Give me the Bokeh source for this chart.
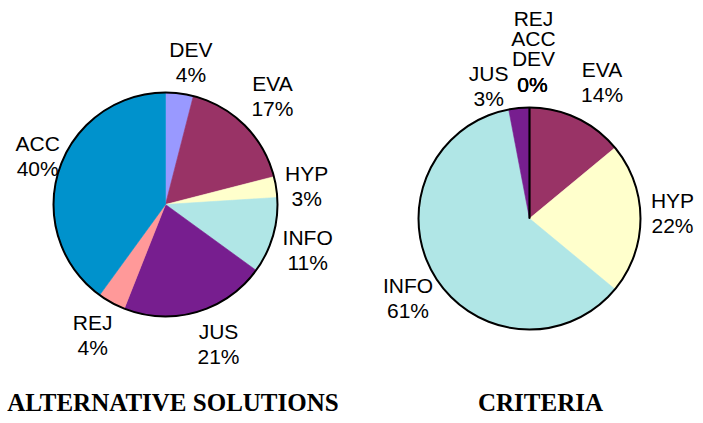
import math
from bokeh.plotting import figure
from bokeh.models import Range1d, ColumnDataSource
from bokeh.core.properties import value
from bokeh.embed import file_html
from bokeh.resources import INLINE

# ---- data ----
categories = ["DEV", "EVA", "HYP", "INFO", "JUS", "REJ", "ACC"]
alternative_pct = [4, 17, 3, 11, 21, 4, 40]
criteria_pct = [0, 14, 22, 61, 3, 0, 0]
colors = ["#9999FF", "#993366", "#FFFFCC", "#B0E6E6", "#771E8F", "#FF9999", "#0092CC"]
titles = ["ALTERNATIVE SOLUTIONS", "CRITERIA"]

# ---- layout (pixel-like coordinates, y measured downwards then flipped) ----
W, H = 703, 423
PAGE_H = 423


def Y(py):
    return PAGE_H - py


p = figure(width=W, height=H, x_range=Range1d(0, W), y_range=Range1d(PAGE_H - H, PAGE_H),
           output_backend="svg", toolbar_location=None, min_border=0)
p.axis.visible = False
p.grid.visible = False
p.outline_line_color = None
p.background_fill_color = "white"

FONT = value("Liberation Sans")
LABEL_SIZE = "21px"
LABEL_R = 147
LINE_GAP = 12.5


def draw_pie(cx, cy, r, vals, nudges):
    total = float(sum(vals))
    cum = 0.0
    src = dict(start=[], end=[], color=[])
    zero_angles = []
    lab = dict(x=[], y=[], t=[])
    zero_before, zero_after = [], []
    seen_nonzero = False
    for cat, v, col in zip(categories, vals, colors):
        a0 = math.pi / 2 - 2 * math.pi * cum / total
        a1 = math.pi / 2 - 2 * math.pi * (cum + v) / total
        if v > 0:
            src["start"].append(a0)
            src["end"].append(a1)
            src["color"].append(col)
            theta = 2 * math.pi * (cum + v / 2.0) / total
            nx, ny = nudges.get(cat, (0, 0))
            lx = cx + LABEL_R * math.sin(theta) + nx
            ly = cy - LABEL_R * math.cos(theta) + ny
            lab["x"] += [lx, lx]
            lab["y"] += [Y(ly - LINE_GAP), Y(ly + LINE_GAP)]
            lab["t"] += [cat, "%d%%" % v]
            seen_nonzero = True
        else:
            zero_angles.append(a0)
            (zero_after if seen_nonzero else zero_before).append(cat)
        cum += v
    p.wedge(x=cx, y=Y(cy), radius=r, radius_units="screen", start_angle="start",
            end_angle="end", direction="clock", fill_color="color", line_color="color",
            line_width=0.6, source=ColumnDataSource(src))
    for a in zero_angles:
        p.segment(x0=cx, y0=Y(cy), x1=cx + r * math.cos(a), y1=Y(cy) + r * math.sin(a),
                  line_color="black", line_width=1.5)
    p.circle(x=cx, y=Y(cy), radius=r, radius_units="screen", fill_color=None,
             line_color="black", line_width=2)
    p.text(x="x", y="y", text="t", source=ColumnDataSource(lab), text_font=FONT,
           text_font_size=LABEL_SIZE, text_align="center", text_baseline="middle",
           text_color="black")
    # stacked labels for zero-valued categories
    stack = zero_after + zero_before
    if stack:
        sx = cx + 4
        sy = cy - LABEL_R
        k = len(stack)
        names_y = [Y(sy - 13 - 20 * (k - 1 - j)) for j in range(k)]
        p.text(x=[sx] * k, y=names_y, text=stack, text_font=FONT,
               text_font_size=LABEL_SIZE, text_align="center", text_baseline="middle",
               text_color="black")
        p.text(x=[sx - 1] * k, y=[Y(sy + 13)] * k, text=["0%"] * k, text_font=FONT,
               text_font_size=LABEL_SIZE, text_align="center", text_baseline="middle",
               text_color="black")


draw_pie(165, 204, 112, alternative_pct,
         {"DEV": (7, 3), "EVA": (3, -5), "HYP": (-4, 4), "INFO": (1, 4),
          "JUS": (12, -2), "REJ": (-2, 2), "ACC": (12, -3)})
draw_pie(529, 218, 111, criteria_pct,
         {"EVA": (10, -3), "HYP": (-4, -6), "INFO": (5, 5), "JUS": (-27, 14)})

p.text(x=[172.5, 540], y=[Y(402), Y(402)], text=titles, text_font=value("Liberation Serif"),
       text_font_size="25px", text_font_style="bold", text_align="center",
       text_baseline="middle", text_color="black")

open("out.html", "w").write(file_html(p, INLINE))
